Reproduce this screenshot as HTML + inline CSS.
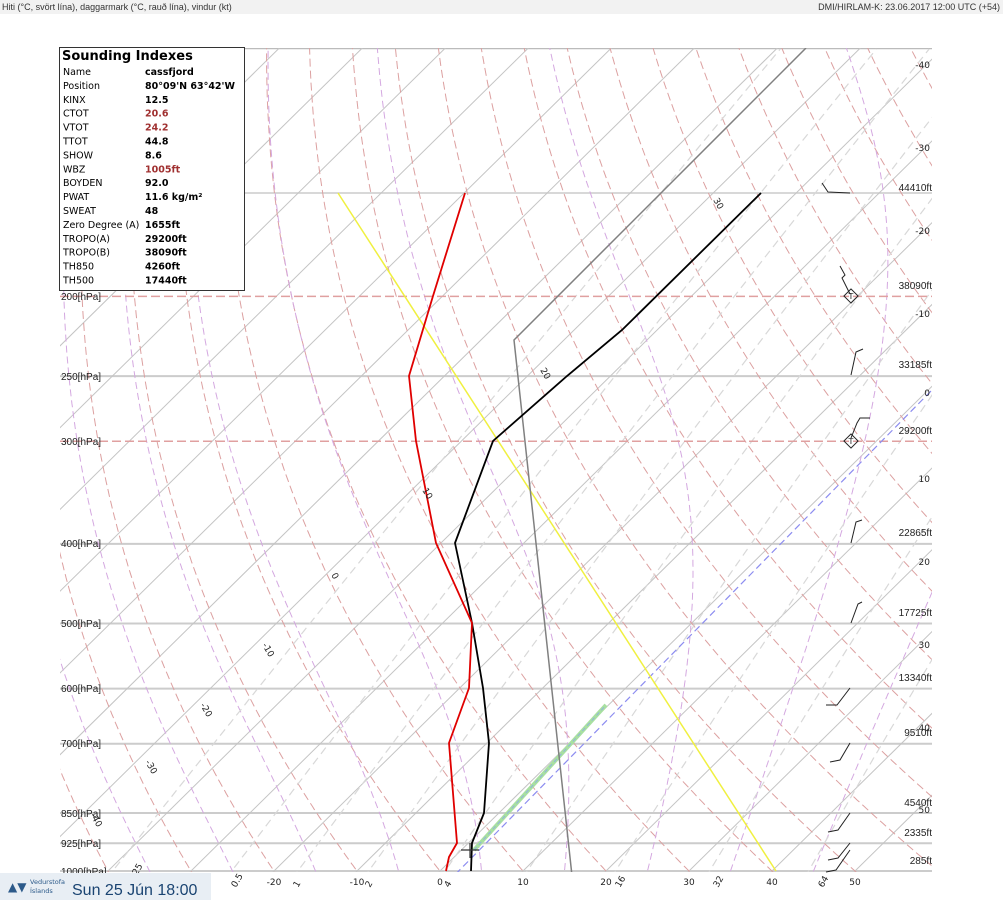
<!DOCTYPE html>
<html><head><meta charset="utf-8"><style>
body{margin:0;width:1003px;height:900px;overflow:hidden;background:#fff;font-family:"DejaVu Sans","Liberation Sans",sans-serif;}
svg{position:absolute;left:0;top:0}
</style></head><body>
<svg id="s" width="1003" height="900" xmlns="http://www.w3.org/2000/svg">
<rect x="0" y="0" width="1003" height="14" fill="#f2f2f2"/>
<text x="2" y="10" font-size="9" font-family="Liberation Sans Narrow,Liberation Sans,sans-serif" fill="#333">Hiti (°C, svört lína), daggarmark (°C, rauð lína), vindur (kt)</text>
<text x="1000" y="10" font-size="9" text-anchor="end" font-family="Liberation Sans Narrow,Liberation Sans,sans-serif" fill="#333">DMI/HIRLAM-K: 23.06.2017 12:00 UTC (+54)</text>
<defs><clipPath id="c"><rect x="60" y="48" width="872" height="824"/></clipPath></defs>
<g id="bg" clip-path="url(#c)"></g>
<g id="fg"></g>
</svg>
<script>
var NS="http://www.w3.org/2000/svg";
function Y(p){return 871-357*Math.log(1000/p);}
function X(T,p){return 440+8.3*T+(871-Y(p))*1.015;}
function el(par,tag,a,txt){var e=document.createElementNS(NS,tag);for(var k in a)e.setAttribute(k,a[k]);if(txt!==undefined)e.textContent=txt;document.getElementById(par).appendChild(e);return e;}
function poly(par,pts,st,w,da){el(par,'polyline',{points:pts.map(function(q){return q[0].toFixed(1)+','+q[1].toFixed(1)}).join(' '),fill:'none',stroke:st,'stroke-width':w,'stroke-dasharray':da||'none'});}
var ps=[];for(var p=1050;p>=95;p-=5)ps.push(p);
[1000,925,850,700,600,500,400,250].forEach(function(p){poly('bg',[[60,Y(p)],[932,Y(p)]],'#cccccc',2);});
poly('bg',[[60,193],[932,193]],'#cccccc',1.5);
poly('bg',[[60,48.5],[932,48.5]],'#bbbbbb',1.5);
for(var T=-150;T<=60;T+=10){poly('bg',[[X(T,1100),Y(1100)],[X(T,90),Y(90)]],'#c4c4c4',1);}
for(var th=-40;th<=200;th+=10){var pts=ps.map(function(p){var t=(th+273.15)*Math.pow(p/1000,0.286)-273.15;return[X(t,p),Y(p)];});poly('bg',pts,'#dca0a0',1,'8,4');}
function es(t){return 6.112*Math.exp(17.67*t/(t+243.5));}
function dTdp(T2,pp){var rs=0.622*es(T2-273.15)/(pp-es(T2-273.15));return (287*T2+2.5e6*rs)/(pp*(1004+2.5e6*2.5e6*rs*0.622/(287*T2*T2)));}
for(var t0=-35;t0<=45;t0+=10){var tt=t0+273.15,pp,T2=tt,arr=[];
 for(pp=1000;pp>=95;pp-=2){arr.push([X(T2-273.15,pp),Y(pp)]);T2-=dTdp(T2,pp)*2;}
 T2=tt;var arr2=[];for(pp=1000;pp<=1060;pp+=2){arr2.unshift([X(T2-273.15,pp),Y(pp)]);T2+=dTdp(T2,pp)*2;}
 poly('bg',arr2.concat(arr),'#d4a8e0',1,'7,4');}
[0.125,0.5,1,2,4,8,16,32,64].forEach(function(w){var pts=[];for(var p=1050;p>=95;p-=10){var e=w*p/(622+w);var l=Math.log(e/6.112);var t=243.5*l/(17.67-l);pts.push([X(t,p),Y(p)]);}poly('bg',pts,'#d8d8d8',1.2,'8,5');});
[200,300].forEach(function(p){poly('bg',[[60,Y(p)],[932,Y(p)]],'#e0a0a0',1.5,'9,4');});
poly('bg',[[440,890],[932,390]],'#8c8cf0',1.2,'7,4');
poly('bg',[[474,850],[606,705]],'#a8e0a0',4);
poly('bg',[[474,850],[606,705]],'#90b0e0',1,'4,3');
poly('bg',[[338,193],[776,871]],'#f0f040',1.5);
poly('bg',[[573,885],[514,340],[806,48]],'#808080',1.5);
poly('bg',[[471,871],[472,843],[484,813],[489,743],[483,688],[472,623],[455,543],[493,441],[567,376],[622,330],[761,193]],'#000',1.8);
poly('bg',[[446,871],[449,857],[457,843],[449,743],[469,688],[472,623],[436,543],[416,441],[409,376],[433,296],[465,193]],'#e00000',1.8);
poly('fg',[[461,850],[479,850]],'#333',1.2);poly('fg',[[470,843],[470,858]],'#333',1.2);
var L={'200':296,'250':376,'300':441,'400':543,'500':623,'600':688,'700':743,'850':813,'925':843,'1000':871};
for(var k in L)el('fg','text',{x:61,y:L[k]+4,'font-size':10,'font-family':'Liberation Sans Narrow,Liberation Sans,sans-serif',fill:'#222'},k+'[hPa]');
var H=[[193,'44410ft'],[291,'38090ft'],[370,'33185ft'],[436,'29200ft'],[538,'22865ft'],[618,'17725ft'],[683,'13340ft'],[738,'9510ft'],[808,'4540ft'],[838,'2335ft'],[866,'285ft']];
H.forEach(function(h){el('fg','text',{x:932,y:h[0]-2,'font-size':10,'text-anchor':'end','font-family':'Liberation Sans Narrow,Liberation Sans,sans-serif',fill:'#222'},h[1]);});
[[65,'-40'],[148,'-30'],[231,'-20'],[314,'-10'],[393,'0'],[479,'10'],[562,'20'],[645,'30'],[728,'40'],[810,'50']].forEach(function(h){el('fg','text',{x:930,y:h[0]+3,'font-size':9,'text-anchor':'end',fill:'#222'},h[1]);});
[[274,'-20'],[357,'-10'],[440,'0'],[523,'10'],[606,'20'],[689,'30'],[772,'40'],[855,'50']].forEach(function(h){el('fg','text',{x:h[0],y:885,'font-size':9,'text-anchor':'middle',fill:'#222'},h[1]);});
[[236,'0.5'],[298,'1'],[370,'2'],[449,'4'],[620,'16'],[718,'32'],[823,'64'],[130,'0.125']].forEach(function(h){el('fg','text',{x:h[0],y:888,'font-size':9,fill:'#222',transform:'rotate(-60 '+h[0]+' 888)'},h[1]);});
[[713,200,'30'],[540,370,'20'],[422,490,'10'],[331,575,'0'],[262,645,'-10'],[200,705,'-20'],[145,762,'-30'],[90,815,'-40']].forEach(function(h){el('fg','text',{x:h[0],y:h[1],'font-size':9,fill:'#222',transform:'rotate(60 '+h[0]+' '+h[1]+')'},h[2]);});
var B=[[[822,183],[828,192],[850,193]],[[840,266],[845,275],[842,278],[850,294]],[[851,375],[856,352],[863,349]],[[851,438],[857,423],[860,418],[870,418]],[[851,543],[856,522],[862,520]],[[851,623],[858,604],[862,602]],[[826,705],[837,705],[850,688]],[[830,762],[840,760],[850,743]],[[828,832],[838,830],[850,813]],[[828,860],[838,858],[850,843]],[[826,872],[836,870],[850,850]]];
B.forEach(function(b){poly('fg',b,'#222',1);});
[[851,296],[851,441]].forEach(function(c){el('fg','rect',{x:c[0]-5,y:c[1]-5,width:10,height:10,fill:'none',stroke:'#222','stroke-width':1,transform:'rotate(45 '+c[0]+' '+c[1]+')'});el('fg','text',{x:c[0],y:c[1]+3,'font-size':8,'text-anchor':'middle',fill:'#222'},'T');});
el('fg','rect',{x:59.5,y:47.5,width:185,height:243,fill:'#fff',stroke:'#333','stroke-width':1});
el('fg','text',{x:62,y:60,'font-size':13,'font-weight':'bold',fill:'#000'},'Sounding Indexes');
var R=[['Name','cassfjord'],['Position',"80°09'N 63°42'W"],['KINX','12.5'],['CTOT','20.6',1],['VTOT','24.2',1],['TTOT','44.8'],['SHOW','8.6'],['WBZ','1005ft',1],['BOYDEN','92.0'],['PWAT','11.6 kg/m²'],['SWEAT','48'],['Zero Degree (A)','1655ft'],['TROPO(A)','29200ft'],['TROPO(B)','38090ft'],['TH850','4260ft'],['TH500','17440ft']];
R.forEach(function(r,i){var y=75+i*13.9;el('fg','text',{x:63,y:y,'font-size':9.5,fill:'#000'},r[0]);el('fg','text',{x:145,y:y,'font-size':9.5,'font-weight':'bold',fill:r[2]?'#a03030':'#000'},r[1]);});
el('fg','rect',{x:0,y:873,width:211,height:27,fill:'#e8eef4'});
el('fg','text',{x:8,y:891,'font-size':12,fill:'#2c5a8a'},'▲▼');
el('fg','text',{x:30,y:884,'font-size':6.5,fill:'#2c5a8a'},'Vedurstofa');
el('fg','text',{x:30,y:893,'font-size':6.5,fill:'#2c5a8a'},'Íslands');
el('fg','text',{x:72,y:895,'font-size':16,fill:'#1a4472','font-family':'Liberation Sans,sans-serif'},'Sun 25 Jún 18:00');
</script>
</body></html>
